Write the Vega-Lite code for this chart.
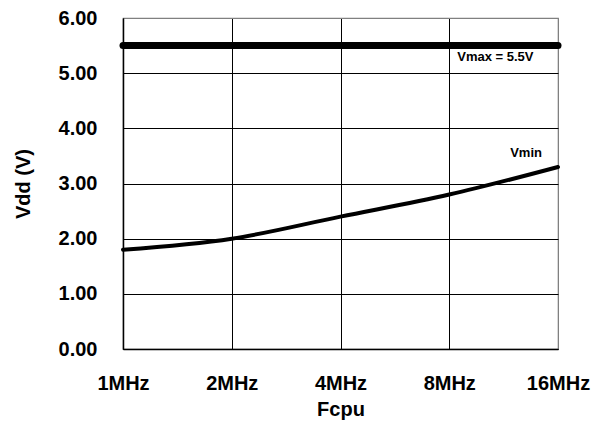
{
  "$schema": "https://vega.github.io/schema/vega-lite/v6.json",
  "autosize": {"type": "none"},
  "padding": {"left": 123, "top": 18, "right": 44, "bottom": 77},
  "width": 435,
  "height": 331,
  "background": "white",
  "config": {
    "view": {"stroke": "#808080", "strokeWidth": 1.2},
    "font": "Liberation Sans"
  },
  "datasets": {
    "vmin": [
      {"fcpu": 1, "vdd": 1.8},
      {"fcpu": 2, "vdd": 2.0},
      {"fcpu": 4, "vdd": 2.4},
      {"fcpu": 8, "vdd": 2.8},
      {"fcpu": 16, "vdd": 3.3}
    ],
    "vmax": [
      {"fcpu": 1, "vdd": 5.5},
      {"fcpu": 16, "vdd": 5.5}
    ],
    "vmaxLabel": [{"fcpu": 8, "vdd": 5.5, "label": "Vmax = 5.5V"}],
    "vminLabel": [{"fcpu": 16, "vdd": 3.3, "label": "Vmin"}]
  },
  "encoding": {
    "x": {
      "field": "fcpu",
      "type": "quantitative",
      "scale": {"type": "log", "base": 2, "domain": [1, 16], "nice": false},
      "axis": {
        "values": [1, 2, 4, 8, 16],
        "labelExpr": "datum.value + 'MHz'",
        "title": "Fcpu",
        "grid": true,
        "gridColor": {"condition": {"test": "datum.value === 16", "value": "#808080"}, "value": "black"},
        "gridWidth": 1,
        "domainColor": "black",
        "domainWidth": 1.5,
        "ticks": false,
        "tickSize": 0,
        "labelFontSize": 20,
        "labelFontWeight": "bold",
        "labelColor": "black",
        "labelPadding": 24,
        "labelFlush": false,
        "labelOverlap": false,
        "labelBound": false,
        "titleFontSize": 20,
        "titleFontWeight": "bold",
        "titleColor": "black",
        "titleY": 60,
        "titleBaseline": "middle"
      }
    },
    "y": {
      "field": "vdd",
      "type": "quantitative",
      "scale": {"domain": [0, 6], "nice": false, "zero": true},
      "axis": {
        "values": [0, 1, 2, 3, 4, 5, 6],
        "format": ".2f",
        "title": "Vdd (V)",
        "grid": true,
        "gridColor": {"condition": {"test": "datum.value === 6", "value": "#808080"}, "value": "black"},
        "gridWidth": 1,
        "domainColor": "black",
        "domainWidth": 1.5,
        "ticks": false,
        "tickSize": 0,
        "labelFontSize": 20,
        "labelFontWeight": "bold",
        "labelColor": "black",
        "labelPadding": 26,
        "labelFlush": false,
        "labelOverlap": false,
        "labelBound": false,
        "titleFontSize": 20,
        "titleFontWeight": "bold",
        "titleColor": "black",
        "titleX": -100,
        "titleY": 165.5,
        "titleAngle": 270,
        "titleBaseline": "middle"
      }
    }
  },
  "layer": [
    {
      "data": {"name": "vmax"},
      "mark": {"type": "line", "color": "black", "strokeWidth": 7, "strokeCap": "round"}
    },
    {
      "data": {"name": "vmin"},
      "mark": {"type": "line", "color": "black", "strokeWidth": 4, "strokeCap": "round", "interpolate": "monotone"}
    },
    {
      "data": {"name": "vmaxLabel"},
      "mark": {"type": "text", "align": "left", "baseline": "middle", "dx": 8, "dy": 11, "fontSize": 13, "fontWeight": "bold", "color": "black"},
      "encoding": {"text": {"field": "label"}}
    },
    {
      "data": {"name": "vminLabel"},
      "mark": {"type": "text", "align": "right", "baseline": "middle", "dx": -16, "dy": -14, "fontSize": 13, "fontWeight": "bold", "color": "black"},
      "encoding": {"text": {"field": "label"}}
    }
  ]
}
